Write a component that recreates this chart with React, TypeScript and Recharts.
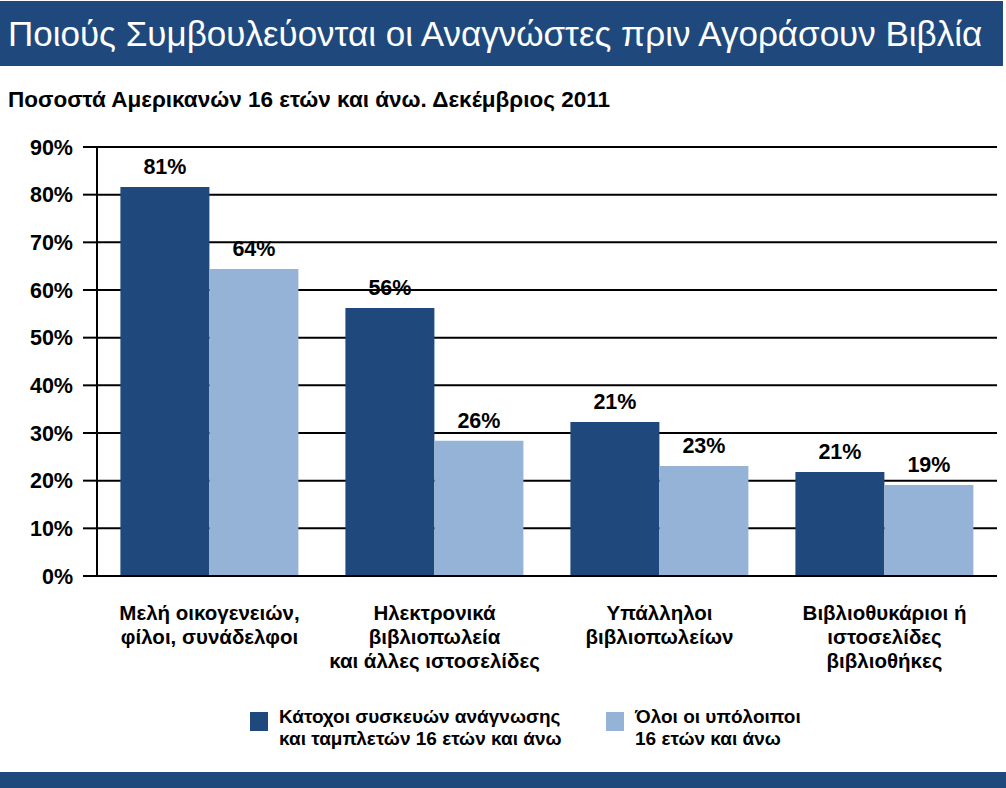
import React from "react";
import { BarChart, Bar, XAxis, YAxis, CartesianGrid, LabelList } from "recharts";

const categories = [
  "Μελή οικογενειών,\nφίλοι, συνάδελφοι",
  "Ηλεκτρονικά\nβιβλιοπωλεία\nκαι άλλες ιστοσελίδες",
  "Υπάλληλοι\nβιβλιοπωλείων",
  "Βιβλιοθυκάριοι ή\nιστοσελίδες\nβιβλιοθήκες",
];
// bar heights as drawn in the picture
const ownersValues = [81.6, 56.2, 32.3, 21.8];
const othersValues = [64.4, 28.4, 23.1, 19.1];
// the printed labels (they don't always match the bar heights)
const ownersLabels = ["81%", "56%", "21%", "21%"];
const othersLabels = ["64%", "26%", "23%", "19%"];
const seriesNames = [
  "Κάτοχοι συσκευών ανάγνωσης\nκαι ταμπλετών 16 ετών και άνω",
  "Όλοι οι υπόλοιποι\n16 ετών και άνω",
];
const yTicks = [0, 10, 20, 30, 40, 50, 60, 70, 80, 90];
const boundaryTicks = [0, 1, 2, 3, 4];

const title = "Ποιούς Συμβουλεύονται οι Αναγνώστες πριν Αγοράσουν Βιβλία";
const subtitle = "Ποσοστά Αμερικανών 16 ετών και άνω. Δεκέμβριος 2011";

const DARK = "#1F497D";
const LIGHT = "#95B3D7";
const FONT = "'Liberation Sans', Arial, sans-serif";

const data = categories.map((name, i) => ({
  name,
  owners: ownersValues[i],
  others: othersValues[i],
}));

const CategoryTick = (props: any) => {
  const { x, y, payload } = props;
  const lines = String(payload.value).split("\n");
  return (
    <text
      x={x}
      y={y}
      textAnchor="middle"
      fontFamily={FONT}
      fontWeight="bold"
      fontSize={20.5}
      fill="#000"
    >
      {lines.map((l, i) => (
        <tspan key={i} x={x} dy={i === 0 ? 35 : 24}>
          {l}
        </tspan>
      ))}
    </text>
  );
};

const makeLabel = (labels: string[]) => (props: any) => {
  const { x, y, width, index } = props;
  return (
    <text
      x={x + width / 2}
      y={y - 13}
      textAnchor="middle"
      fontFamily={FONT}
      fontWeight="bold"
      fontSize={21.5}
      fill="#000"
    >
      {labels[index]}
    </text>
  );
};

const LegendItem = ({ color, text, left }: { color: string; text: string; left: number }) => (
  <div style={{ position: "absolute", left, top: 706, display: "flex" }}>
    <div style={{ width: 18, height: 19, background: color, marginTop: 6, marginRight: 11 }} />
    <div
      style={{
        fontFamily: FONT,
        fontWeight: "bold",
        fontSize: 19,
        lineHeight: "22px",
        whiteSpace: "pre",
        color: "#000",
      }}
    >
      {text}
    </div>
  </div>
);

export default function App() {
  return (
    <div
      style={{
        position: "absolute",
        left: 0,
        top: 0,
        width: 1006,
        height: 788,
        background: "#fff",
        overflow: "hidden",
      }}
    >
      <div
        style={{
          position: "absolute",
          left: 0,
          top: 1,
          width: 1003,
          height: 65,
          background: DARK,
          color: "#fff",
          fontFamily: FONT,
          fontSize: 35,
          lineHeight: "65px",
          paddingLeft: 8,
          boxSizing: "border-box",
          whiteSpace: "nowrap",
        }}
      >
        {title}
      </div>
      <div
        style={{
          position: "absolute",
          left: 8,
          top: 86,
          fontFamily: FONT,
          fontWeight: "bold",
          fontSize: 22.5,
          lineHeight: "28px",
          color: "#000",
          whiteSpace: "nowrap",
        }}
      >
        {subtitle}
      </div>

      <div style={{ position: "absolute", left: 0, top: 0 }}>
        <BarChart
          width={1006}
          height={788}
          data={data}
          margin={{ top: 147, right: 9, bottom: 102, left: 7 }}
          barCategoryGap="10.4%"
          barGap={0}
        >
          <CartesianGrid horizontal vertical={false} stroke="#000" strokeWidth={2} />
          <XAxis
            xAxisId="bounds"
            type="number"
            domain={[0, 4]}
            ticks={boundaryTicks}
            tick={false}
            tickSize={9}
            height={1}
            axisLine={{ stroke: "#000", strokeWidth: 2 }}
            tickLine={{ stroke: "#000", strokeWidth: 2 }}
            allowDataOverflow
          />
          <XAxis
            xAxisId="cat"
            dataKey="name"
            type="category"
            axisLine={false}
            tickLine={false}
            height={109}
            interval={0}
            tick={<CategoryTick />}
          />
          <YAxis
            domain={[0, 90]}
            ticks={yTicks}
            width={90}
            interval={0}
            tickFormatter={(v: number) => `${v}%`}
            tickSize={14}
            tickMargin={10}
            axisLine={{ stroke: "#000", strokeWidth: 2 }}
            tickLine={{ stroke: "#000", strokeWidth: 2 }}
            tick={{ fontFamily: FONT, fontWeight: "bold", fontSize: 21.5, fill: "#000" }}
          />
          <Bar xAxisId="cat" dataKey="owners" fill={DARK} isAnimationActive={false}>
            <LabelList dataKey="owners" content={makeLabel(ownersLabels)} />
          </Bar>
          <Bar xAxisId="cat" dataKey="others" fill={LIGHT} isAnimationActive={false}>
            <LabelList dataKey="others" content={makeLabel(othersLabels)} />
          </Bar>
        </BarChart>
      </div>

      <LegendItem color={DARK} text={seriesNames[0]} left={250} />
      <LegendItem color={LIGHT} text={seriesNames[1]} left={606} />

      <div
        style={{
          position: "absolute",
          left: 0,
          top: 772,
          width: 1006,
          height: 16,
          background: DARK,
        }}
      />
    </div>
  );
}
